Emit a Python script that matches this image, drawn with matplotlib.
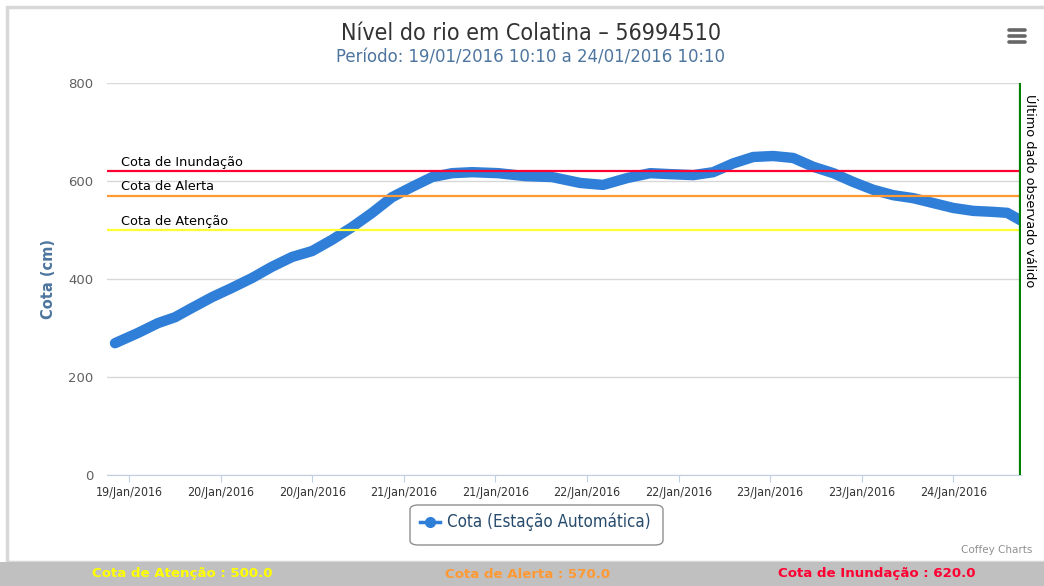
import matplotlib.pyplot as plt
from matplotlib.patches import FancyBboxPatch, Rectangle
from matplotlib.lines import Line2D
from datetime import datetime, timedelta

# dados
horas = ["19/01 10:10", "19/01 13:11", "19/01 15:48", "19/01 18:02", "19/01 20:15",
         "19/01 22:53", "20/01 01:30", "20/01 04:07", "20/01 06:44", "20/01 09:22",
         "20/01 11:59", "20/01 14:36", "20/01 17:14", "20/01 19:51", "20/01 22:28",
         "21/01 01:05", "21/01 03:43", "21/01 06:20", "21/01 08:57", "21/01 12:22",
         "21/01 15:54", "21/01 19:26", "21/01 23:07", "22/01 02:07", "22/01 05:16",
         "22/01 08:17", "22/01 10:54", "22/01 13:55", "22/01 16:32", "22/01 19:10",
         "22/01 21:47", "23/01 00:24", "23/01 03:01", "23/01 05:39", "23/01 08:16",
         "23/01 10:53", "23/01 13:31", "23/01 16:08", "23/01 18:45", "23/01 21:22",
         "23/01 23:59", "24/01 02:37", "24/01 05:14", "24/01 07:04", "24/01 08:47"]
cota = [269, 290, 310, 322, 341,
        363, 382, 402, 425, 445,
        457, 480, 506, 535, 567,
        588, 608, 616, 618, 616,
        610, 608, 596, 592, 606,
        616, 614, 612, 618, 636,
        649, 651, 647, 629, 616,
        598, 582, 571, 565, 555,
        545, 539, 537, 535, 520]

cota_atencao = 500.0
cota_alerta = 570.0
cota_inundacao = 620.0

tick_labels = ["19/Jan/2016", "20/Jan/2016", "20/Jan/2016", "21/Jan/2016", "21/Jan/2016",
               "22/Jan/2016", "22/Jan/2016", "23/Jan/2016", "23/Jan/2016", "24/Jan/2016"]

t = [datetime.strptime("2016/" + h, "%Y/%d/%m %H:%M") for h in horas]

W, H = 1044, 586
def fx(px):
    return px / W
def fy(py):
    return 1 - py / H

narrow = ['DejaVu Sans']
azul = '#2f7ed8'

fig = plt.figure(figsize=(W / 100, H / 100), dpi=100)
fig.patch.set_facecolor('white')

# moldura e barra inferior
fig.add_artist(Rectangle((fx(7), fy(562)), 1, fy(7) - fy(562), transform=fig.transFigure,
                         facecolor='none', edgecolor='#d8d8d8', lw=2.5))
fig.add_artist(Rectangle((0, 0), 1, fy(562), transform=fig.transFigure,
                         facecolor='#c0c0c0', edgecolor='none'))

ax = fig.add_axes([fx(107), fy(475), fx(1021) - fx(107), fy(83) - fy(475)])
ax.plot(t, cota, color=azul, lw=7.5, solid_capstyle='round', solid_joinstyle='round', zorder=3)

ax.axhline(cota_inundacao, color='#ff0033', lw=1.6, zorder=4)
ax.axhline(cota_alerta, color='#ff9933', lw=1.6, zorder=4)
ax.axhline(cota_atencao, color='#ffff33', lw=1.6, zorder=4)

x0 = datetime(2016, 1, 19, 9, 7)
x1 = t[-1]
ax.set_xlim(x0, x1 + timedelta(minutes=5))
ax.set_ylim(0, 800)
ax.axvline(x1, color='#008000', lw=1.6, zorder=5)

xt = [datetime(2016, 1, 19, 12, 0) + timedelta(hours=12 * i) for i in range(len(tick_labels))]
ax.set_xticks(xt)
ax.set_xticklabels(tick_labels, fontsize=8.9, color='#333333', family=narrow, fontstretch='condensed')
ax.set_yticks([0, 200, 400, 600, 800])
ax.set_yticklabels(['0', '200', '400', '600', '800'], fontsize=9.5, color='#606060')
ax.tick_params(axis='y', length=0, pad=10)
ax.tick_params(axis='x', length=5, color='#c0d0e0', pad=3)
ax.grid(axis='y', color='#d8d8d8', lw=1)
ax.set_axisbelow(True)
for s in ['top', 'right', 'left']:
    ax.spines[s].set_visible(False)
ax.spines['bottom'].set_color('#c0d0e0')

ax.set_ylabel('Cota (cm)', fontsize=10.5, color='#4d759e', fontweight='bold', labelpad=8.6)

tx = datetime(2016, 1, 19, 11, 0)
ax.text(tx, cota_inundacao + 5, 'Cota de Inundação', fontsize=9.3, color='black', va='bottom')
ax.text(tx, cota_alerta + 5, 'Cota de Alerta', fontsize=9.3, color='black', va='bottom')
ax.text(tx, cota_atencao + 5, 'Cota de Atenção', fontsize=9.3, color='black', va='bottom')
ax.text(x1 + timedelta(minutes=20), 777, 'Último dado observado válido', fontsize=9.3,
        rotation=-90, va='top', ha='left', color='black', clip_on=False)

# titulos
fig.text(fx(531), fy(34), 'Nível do rio em Colatina – 56994510', fontsize=16.7, color='#333333',
         ha='center', va='center', family=narrow, fontstretch='condensed')
fig.text(fx(531), fy(57), 'Período: 19/01/2016 10:10 a 24/01/2016 10:10', fontsize=13.2,
         color='#4d759e', ha='center', va='center', family=narrow, fontstretch='condensed')

# menu
for yy in [30, 36, 42]:
    fig.add_artist(Line2D([fx(1009), fx(1025)], [fy(yy), fy(yy)], color='#666666', lw=2.6,
                          solid_capstyle='round'))

# legenda
fig.add_artist(FancyBboxPatch((fx(410), fy(545)), fx(663) - fx(410), fy(505) - fy(545),
                              boxstyle='round,pad=0,rounding_size=0.008', transform=fig.transFigure,
                              facecolor='white', edgecolor='#909090', lw=1))
fig.add_artist(Line2D([fx(420), fx(440)], [fy(522), fy(522)], color=azul, lw=2.5))
fig.add_artist(Line2D([fx(430)], [fy(522)], color=azul, marker='o', markersize=7))
fig.text(fx(447), fy(522), 'Cota (Estação Automática)', fontsize=12.2, color='#274b6d',
         ha='left', va='center', family=narrow, fontstretch='condensed')

fig.text(fx(1032), fy(550), 'Coffey Charts', fontsize=7.5, color='#909090', ha='right', va='center')

fig.text(fx(182), fy(574), 'Cota de Atenção : %.1f' % cota_atencao, fontsize=9.6, color='#ffff00',
         ha='center', va='center', family=narrow, fontweight='bold')
fig.text(fx(528), fy(574), 'Cota de Alerta : %.1f' % cota_alerta, fontsize=9.6, color='#ff9933',
         ha='center', va='center', family=narrow, fontweight='bold')
fig.text(fx(877), fy(574), 'Cota de Inundação : %.1f' % cota_inundacao, fontsize=9.6,
         color='#ff0033', ha='center', va='center', family=narrow, fontweight='bold')

fig.savefig('out.png', dpi=100)
